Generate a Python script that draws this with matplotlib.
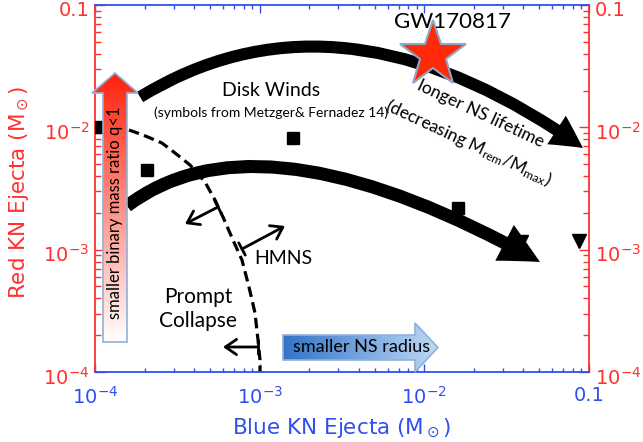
import numpy as np
import matplotlib
matplotlib.use('Agg')
import matplotlib.pyplot as plt
import matplotlib.transforms as mtransforms
from matplotlib.path import Path
from matplotlib.patches import FancyArrowPatch, Polygon, ArrowStyle
from matplotlib.ticker import FixedLocator, FixedFormatter, LogLocator, NullFormatter

RED = '#ff3030'
BLUE = '#2f4ff0'
TXT_FONT = ['Lato', 'DejaVu Sans']

# ---------------- data ----------------
x_ticks = [1e-4, 1e-3, 1e-2, 1e-1]
x_tick_labels = [r'$\mathregular{10^{-4}}$', r'$\mathregular{10^{-3}}$', r'$\mathregular{10^{-2}}$', '0.1']
y_ticks = [1e-4, 1e-3, 1e-2, 1e-1]
y_tick_labels = [r'$\mathregular{10^{-4}}$', r'$\mathregular{10^{-3}}$', r'$\mathregular{10^{-2}}$', '0.1']

# Metzger & Fernandez 14 disk-wind symbols
square_x = [1.07e-4, 2.07e-4, 1.59e-3, 0.016]
square_y = [1.0e-2, 4.48e-3, 8.2e-3, 2.19e-3]
triangle_x = [0.0386, 0.0869]
triangle_y = [1.16e-3, 1.178e-3]

# GW170817
gw_x = [0.01129]
gw_y = [0.039]

# prompt-collapse / HMNS boundary (dashed)
boundary_x = [1.609e-4, 1.957e-4, 2.552e-4, 3.061e-4, 3.775e-4, 4.656e-4, 5.354e-4,
              5.987e-4, 6.887e-4, 7.809e-4, 8.614e-4, 9.369e-4, 9.77e-4, 1.0046e-3, 1.0046e-3]
boundary_y = [9.51e-3, 8.66e-3, 7.44e-3, 6.17e-3, 4.92e-3, 3.57e-3, 2.546e-3,
              1.849e-3, 1.199e-3, 8.23e-4, 4.95e-4, 3.034e-4, 1.826e-4, 1.253e-4, 1.0e-4]

# thick "longer NS lifetime" arrows: start, bend (control), end
upper_arrow_x = [1.877e-4, 3.06e-3, 0.0919]
upper_arrow_y = [1.770e-2, 0.176, 6.78e-3]
lower_arrow_x = [1.564e-4, 1.005e-3, 0.0504]
lower_arrow_y = [2.275e-3, 1.522e-2, 7.93e-4]

# ---------------- figure ----------------
fig = plt.figure(figsize=(6.43, 4.42), dpi=100)
ax = fig.add_axes([95 / 643, 70 / 442, 494 / 643, 367 / 442])
ax.set_xscale('log')
ax.set_yscale('log')
ax.set_xlim(1e-4, 0.1)
ax.set_ylim(1e-4, 0.1)

for s in ['left', 'right']:
    ax.spines[s].set_color(RED)
for s in ['top', 'bottom']:
    ax.spines[s].set_color(BLUE)
for sp in ax.spines.values():
    sp.set_linewidth(1.3)

ax.xaxis.set_major_locator(FixedLocator(x_ticks))
ax.xaxis.set_major_formatter(FixedFormatter(x_tick_labels))
ax.xaxis.set_minor_locator(LogLocator(base=10, subs=np.arange(2, 10)))
ax.xaxis.set_minor_formatter(NullFormatter())
ax.yaxis.set_major_locator(FixedLocator(y_ticks))
ax.yaxis.set_major_formatter(FixedFormatter(y_tick_labels))
ax.yaxis.set_minor_locator(LogLocator(base=10, subs=np.arange(2, 10)))
ax.yaxis.set_minor_formatter(NullFormatter())

ax.tick_params(axis='x', which='both', direction='in', top=True, bottom=True,
               color=BLUE, labelcolor=BLUE, labelsize=14, pad=10, width=1.0)
ax.tick_params(axis='x', which='major', length=5.5)
ax.tick_params(axis='x', which='minor', length=3)
ax.tick_params(axis='y', which='both', direction='in', left=True, right=True,
               labelleft=True, labelright=True, color=RED, labelcolor=RED,
               labelsize=14, pad=4, width=1.0)
ax.tick_params(axis='y', which='major', length=7)
ax.tick_params(axis='y', which='minor', length=4)

# y tick labels sit a little below their ticks
shift = mtransforms.ScaledTranslation(0, -3.5 / 100, fig.dpi_scale_trans)
for t in ax.yaxis.get_major_ticks():
    t.label1.set_transform(t.label1.get_transform() + shift)
    t.label2.set_transform(t.label2.get_transform() + shift)

ax.set_xlabel(r'Blue KN Ejecta (M$_\odot$)', color=BLUE, fontsize=15.5)
ax.set_ylabel(r'Red KN Ejecta (M$_\odot$)', color=RED, fontsize=15.5)
ax.xaxis.set_label_coords(0.5, -0.12)
ax.yaxis.set_label_coords(-0.13, 0.49)

# dashed boundary
ax.plot(boundary_x, boundary_y, color='black', lw=2.3, ls=(0, (3.3, 1.7)), zorder=2)

# thick arrows
def thick_arrow(xs, ys, hl, hw, tw):
    path = Path(list(zip(xs, ys)), [Path.MOVETO, Path.CURVE3, Path.CURVE3])
    p = FancyArrowPatch(path=path,
                        arrowstyle=ArrowStyle.Simple(head_length=hl, head_width=hw, tail_width=tw),
                        mutation_scale=1, facecolor='black', edgecolor='none', lw=0, zorder=3)
    ax.add_patch(p)

thick_arrow(upper_arrow_x, upper_arrow_y, 23, 24.5, 8.6)
thick_arrow(lower_arrow_x, lower_arrow_y, 29, 29, 9.4)

# symbols
ax.plot(square_x, square_y, 's', ms=8.5, color='black', zorder=4)
ax.plot(triangle_x, triangle_y, 'v', ms=10, color='black', zorder=4)
ax.plot(gw_x, gw_y, '*', ms=50, mfc='#ff2a0a', mec='#8fa8c8', mew=1.5, zorder=6, clip_on=False)

# ---------------- overlay (annotations) ----------------
ov = fig.add_axes([0, 0, 1, 1], zorder=5)
ov.axis('off')
ov.patch.set_alpha(0)

def grad_arrow(verts, extent, c0, c1, vertical):
    poly = Polygon(verts, closed=True, facecolor='none', edgecolor='#8fb2da', lw=1.2, zorder=2)
    ov.add_patch(poly)
    t = np.linspace(0, 1, 256)
    c0 = np.array(c0)
    c1 = np.array(c1)
    cols = c0[None, :] * (1 - t[:, None]) + c1[None, :] * t[:, None]
    arr = cols[:, None, :] if vertical else cols[None, :, :]
    im = ov.imshow(arr, extent=extent, origin='upper', aspect='auto', zorder=1,
                   interpolation='bilinear')
    im.set_clip_path(poly)

grad_arrow([(103, 342), (127, 342), (127, 93), (138, 93), (115, 73), (92, 93), (103, 93)],
           (92, 138, 342, 73), (1.0, 0.13, 0.05), (1.0, 1.0, 1.0), True)
grad_arrow([(283, 335), (415, 335), (415, 323), (438, 347.5), (415, 372), (415, 360), (283, 360)],
           (283, 438, 372, 323), (0.20, 0.45, 0.78), (0.74, 0.85, 0.96), False)
ov.set_xlim(0, 643)
ov.set_ylim(442, 0)

def small_arrow(p0, p1):
    st = ArrowStyle(']->', widthA=0.5, lengthA=0)
    st.head_length = 0.8
    st.head_width = 0.55
    a = FancyArrowPatch(p0, p1, arrowstyle=st, mutation_scale=10, color='black',
                        lw=2.0, shrinkA=0, shrinkB=0, zorder=3)
    ov.add_patch(a)

small_arrow((218, 207), (185, 224))
small_arrow((242, 249), (285, 226))
small_arrow((258, 347), (223, 347))

def txt(x, y, s, size, **kw):
    ov.text(x, y, s, fontsize=size, family=TXT_FONT, ha='center', va='center', **kw)

txt(115, 213, 'smaller binary mass ratio q<1', 12, rotation=90)
txt(362, 347, 'smaller NS radius', 13)
txt(271, 91, 'Disk Winds', 14)
txt(271, 113, '(symbols from Metzger& Fernadez 14)', 10)
txt(283, 258, 'HMNS', 14)
txt(198, 309, 'Prompt\nCollapse', 15, linespacing=1.3)
txt(452, 22, 'GW170817', 16)
txt(481, 114, 'longer NS lifetime', 12.5, rotation=-25, rotation_mode='anchor')
txt(468, 143, r'(decreasing M$\mathregular{_{rem}}$/M$\mathregular{_{max}}$)', 12.5,
    rotation=-25, rotation_mode='anchor')

fig.savefig('out.png', dpi=100)
